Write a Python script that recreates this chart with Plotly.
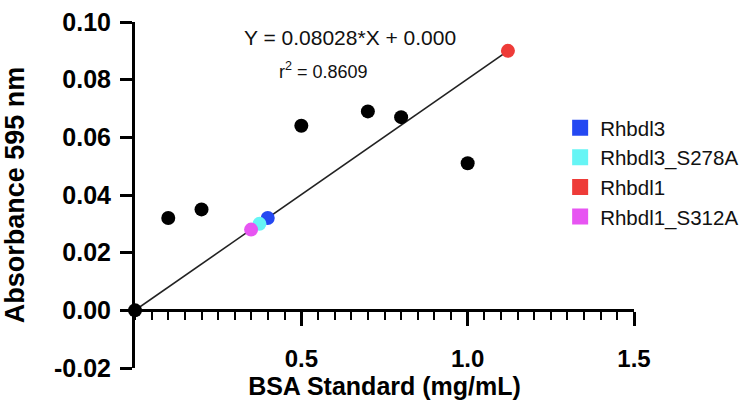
import plotly.graph_objects as go

# Standards (black)
std_x = [0.0, 0.1, 0.2, 0.5, 0.7, 0.8, 1.0]
std_y = [0.0, 0.032, 0.035, 0.064, 0.069, 0.067, 0.051]

# Samples (interpolated onto the standard curve)
sample_names = ["Rhbdl3", "Rhbdl3_S278A", "Rhbdl1", "Rhbdl1_S312A"]
sample_x = [0.399, 0.374, 1.121, 0.349]
sample_y = [0.032, 0.030, 0.090, 0.028]
sample_colors = ["#2448F2", "#66F5F5", "#EE3B38", "#E755F2"]

slope = 0.08028
r2 = 0.8609

y_ticks = [-0.02, 0.0, 0.02, 0.04, 0.06, 0.08, 0.10]
y_ticktext = ["-0.02", "0.00", "0.02", "0.04", "0.06", "0.08", "0.10"]
x_ticks = [0.5, 1.0, 1.5]
x_ticktext = ["0.5", "1.0", "1.5"]

FONT = "Liberation Sans, Arial, sans-serif"

fig = go.Figure()

# Fit line through origin to the largest x
x_max = max(max(std_x), max(sample_x))
fig.add_trace(go.Scatter(
    x=[0.0, x_max], y=[0.0, slope * x_max], mode="lines",
    line=dict(color="#222222", width=1.6), showlegend=False, hoverinfo="skip",
    cliponaxis=False))

fig.add_trace(go.Scatter(
    x=std_x, y=std_y, mode="markers",
    marker=dict(color="black", size=14), showlegend=False, cliponaxis=False))

for n, xv, yv, c in zip(sample_names, sample_x, sample_y, sample_colors):
    fig.add_trace(go.Scatter(
        x=[xv], y=[yv], mode="markers", marker=dict(color=c, size=14),
        showlegend=False, legendgroup=n, cliponaxis=False))
    fig.add_trace(go.Scatter(
        x=[None], y=[None], mode="markers", name=n, legendgroup=n,
        marker=dict(color=c, size=18, symbol="square")))

L, R, T, B = 135, 100.5, 22, 37.7
y_lo, y_hi = -0.02, 0.10
zero_frac = (0 - y_lo) / (y_hi - y_lo)

fig.update_layout(
    width=756, height=406,
    margin=dict(l=L, r=R, t=T, b=B, pad=0),
    paper_bgcolor="white", plot_bgcolor="white",
    font=dict(family=FONT, color="black"),
    showlegend=True,
    legend=dict(x=0.852, y=0.752, xanchor="left", yanchor="top",
                font=dict(family=FONT, size=20.5, color="#111111"),
                bgcolor="rgba(0,0,0,0)", tracegroupgap=0, itemsizing="trace"),
    xaxis=dict(
        range=[0, 1.5], anchor="free", position=zero_frac,
        showline=True, linecolor="black", linewidth=3,
        showgrid=False, zeroline=False,
        ticks="outside", ticklen=14, tickwidth=2.5, tickcolor="black",
        tickvals=x_ticks, ticktext=x_ticktext,
        ticklabelstandoff=12,
        tickfont=dict(family=FONT, size=24, weight="bold"),
        minor=dict(ticks="outside", ticklen=8, tickwidth=2, tickcolor="black",
                   tick0=0, dtick=0.05, showgrid=False),
        title=dict(text="BSA Standard (mg/mL)", standoff=4,
                   font=dict(family=FONT, size=25, weight="bold")),
        automargin=False,
    ),
    yaxis=dict(
        range=[y_lo, y_hi],
        showline=True, linecolor="black", linewidth=3,
        showgrid=False, zeroline=False,
        ticks="outside", ticklen=12, tickwidth=2.5, tickcolor="black",
        tickvals=y_ticks, ticktext=y_ticktext,
        ticklabelstandoff=4,
        tickfont=dict(family=FONT, size=25, weight="bold"),
        title=dict(text="Absorbance 595 nm", standoff=22,
                   font=dict(family=FONT, size=27, weight="bold")),
        automargin=False,
    ),
    annotations=[
        dict(text=f"Y = {slope:.5f}*X + 0.000", xref="paper", yref="paper",
             x=0.4304, y=0.9538, xanchor="center", yanchor="middle",
             showarrow=False, font=dict(family=FONT, size=21, color="#111111")),
        dict(text=f"r<sup>2</sup> = {r2:.4f}", xref="paper", yref="paper",
             x=0.378, y=0.8585, xanchor="center", yanchor="middle",
             showarrow=False, font=dict(family=FONT, size=18, color="#111111")),
    ],
)

fig.write_html("out.html", config={"displayModeBar": False},
               post_script="document.body.style.margin='0';")
